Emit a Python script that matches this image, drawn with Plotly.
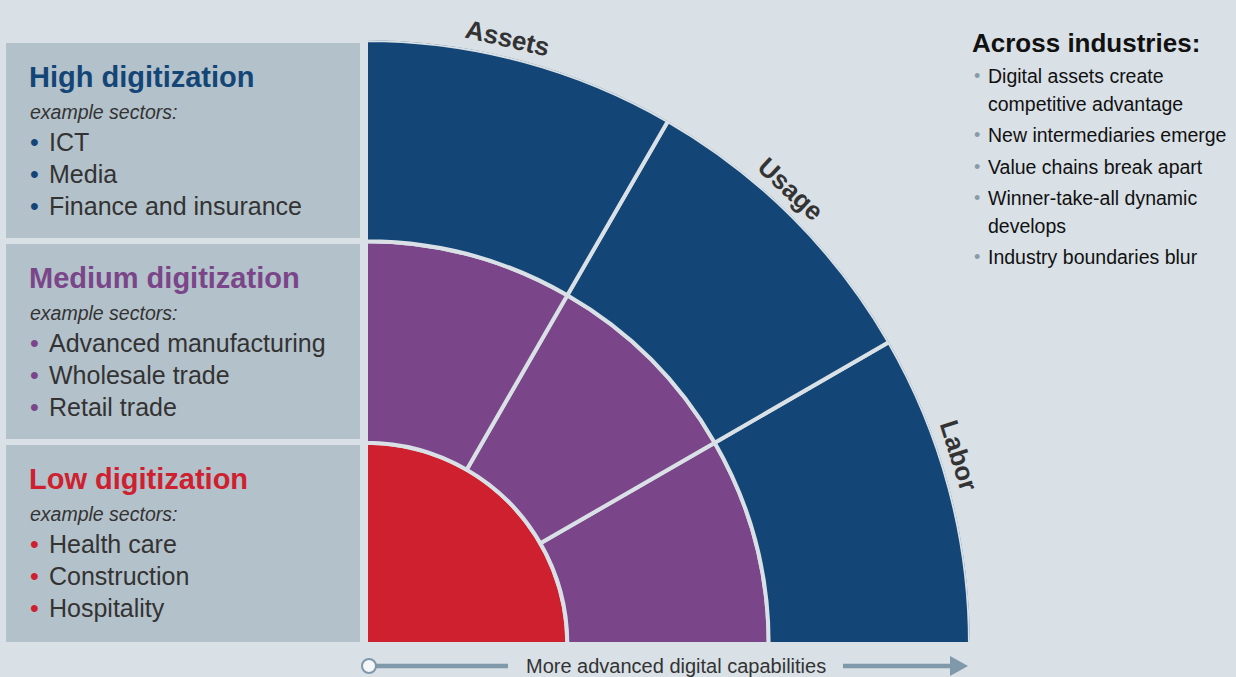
import math
import plotly.graph_objects as go

# ring levels, inner to outer
levels = ["Low digitization", "Medium digitization", "High digitization"]
level_colors = ["#cf202f", "#7a4589", "#134677"]

# angular segments of the two outer rings
segments = ["Labor", "Usage", "Assets"]
segment_theta = [15, 45, 75]
segment_width = [30, 30, 30]

# left boxes, top to bottom
box_titles = ["High digitization", "Medium digitization", "Low digitization"]
box_colors = ["#134677", "#7a4589", "#cf202f"]
box_sectors = [
    ["ICT", "Media", "Finance and insurance"],
    ["Advanced manufacturing", "Wholesale trade", "Retail trade"],
    ["Health care", "Construction", "Hospitality"],
]

across_title = "Across industries:"
across_items = [
    ["Digital assets create", "competitive advantage"],
    ["New intermediaries emerge"],
    ["Value chains break apart"],
    ["Winner-take-all dynamic", "develops"],
    ["Industry boundaries blur"],
]
axis_label = "More advanced digital capabilities"

W, H = 1236, 677
BG = "#d9e0e6"
BOX = "#b3c1ca"
TXT = "#333333"
ARROW = "#7f98aa"
FONT = "Liberation Sans, Arial, sans-serif"


def px(x):
    return x / W


def py(y):
    return 1 - y / H


fig = go.Figure()

# inner disc
fig.add_trace(go.Barpolar(
    r=[1], base=[0], theta=[45], width=[90],
    marker=dict(color=level_colors[0], line=dict(color=BG, width=4)),
    name=levels[0], hoverinfo="skip"))
# outer rings split by segment
for i in (1, 2):
    fig.add_trace(go.Barpolar(
        r=[1] * len(segments), base=[i] * len(segments),
        theta=segment_theta, width=segment_width,
        marker=dict(color=level_colors[i], line=dict(color=BG, width=4)),
        name=levels[i], hoverinfo="skip"))

# quarter circle: centre (366,644), radius 604 px
cx, cy, R = 366, 644, 604
fig.update_layout(
    polar=dict(
        domain=dict(x=[px(cx), px(cx + R)], y=[py(cy), py(cy - R)]),
        sector=[0, 90],
        bgcolor="rgba(0,0,0,0)",
        bargap=0,
        radialaxis=dict(visible=False, range=[0, 3]),
        angularaxis=dict(visible=False, rotation=0, direction="counterclockwise"),
    )
)

shapes = []
annotations = []

# left boxes
box_tops = [43, 244, 445]
box_bottoms = [238, 439, 642]
for k in range(3):
    shapes.append(dict(type="rect", xref="paper", yref="paper",
                       x0=px(6), x1=px(360), y0=py(box_bottoms[k]), y1=py(box_tops[k]),
                       fillcolor=BOX, line=dict(width=0), layer="below"))
    off = box_tops[k] - 43
    annotations.append(dict(text="<b>%s</b>" % box_titles[k], x=px(27), y=py(77 + off),
                            font=dict(size=29, color=box_colors[k])))
    annotations.append(dict(text="<i>example sectors:</i>", x=px(28), y=py(112 + off),
                            font=dict(size=19.5, color=TXT)))
    for j, s in enumerate(box_sectors[k]):
        yy = py(142 + off + 32 * j)
        annotations.append(dict(text="•", x=px(28), y=yy,
                                font=dict(size=25, color=box_colors[k])))
        annotations.append(dict(text=s, x=px(47), y=yy,
                                font=dict(size=25, color=TXT)))

# ring segment labels along the outer arc
label_theta = [17.5, 47, 77]
for name, th in zip(segments, label_theta):
    r_lab = 620
    x = 368 + r_lab * math.cos(math.radians(th))
    y = 642 - r_lab * math.sin(math.radians(th))
    annotations.append(dict(text="<b>%s</b>" % name, x=px(x), y=py(y),
                            xanchor="center", yanchor="middle",
                            textangle=90 - th, font=dict(size=26, color=TXT)))

# right hand list
annotations.append(dict(text="<b>%s</b>" % across_title, x=px(970), y=py(43),
                        font=dict(size=26, color="#111111")))
y = 76
for item in across_items:
    annotations.append(dict(text="•", x=px(972), y=py(y),
                            font=dict(size=18, color="#8c9ba6")))
    for line in item:
        annotations.append(dict(text=line, x=px(986), y=py(y),
                                font=dict(size=19.5, color="#111111")))
        y += 27.5
    y += 4

# bottom arrow
ay = 666
shapes.append(dict(type="line", xref="paper", yref="paper",
                   x0=px(372), x1=px(508), y0=py(ay), y1=py(ay),
                   line=dict(color=ARROW, width=4.5)))
shapes.append(dict(type="line", xref="paper", yref="paper",
                   x0=px(843), x1=px(952), y0=py(ay), y1=py(ay),
                   line=dict(color=ARROW, width=4.5)))
shapes.append(dict(type="path", xref="paper", yref="paper",
                   path="M %f %f L %f %f L %f %f Z" % (px(950), py(ay - 10), px(968), py(ay),
                                                       px(950), py(ay + 10)),
                   fillcolor=ARROW, line=dict(width=0)))
shapes.append(dict(type="circle", xref="paper", yref="paper",
                   x0=px(362), x1=px(376), y0=py(ay + 7), y1=py(ay - 7),
                   fillcolor="#f4f6f8", line=dict(color=ARROW, width=2)))
annotations.append(dict(text=axis_label, x=px(676), y=py(ay), xanchor="center",
                        font=dict(size=20, color=TXT)))

for a in annotations:
    a.setdefault("xref", "paper")
    a.setdefault("yref", "paper")
    a.setdefault("xanchor", "left")
    a.setdefault("yanchor", "middle")
    a.setdefault("showarrow", False)

fig.update_layout(
    width=W, height=H,
    margin=dict(l=0, r=0, t=0, b=0),
    paper_bgcolor=BG,
    plot_bgcolor=BG,
    font=dict(family=FONT, color=TXT),
    showlegend=False,
    shapes=shapes,
    annotations=annotations,
)

# page body margin would otherwise push the figure 8px off the window
fig.write_html("out.html",
               config={"displayModeBar": False},
               post_script="document.body.style.margin='0';document.body.style.overflow='hidden';")
